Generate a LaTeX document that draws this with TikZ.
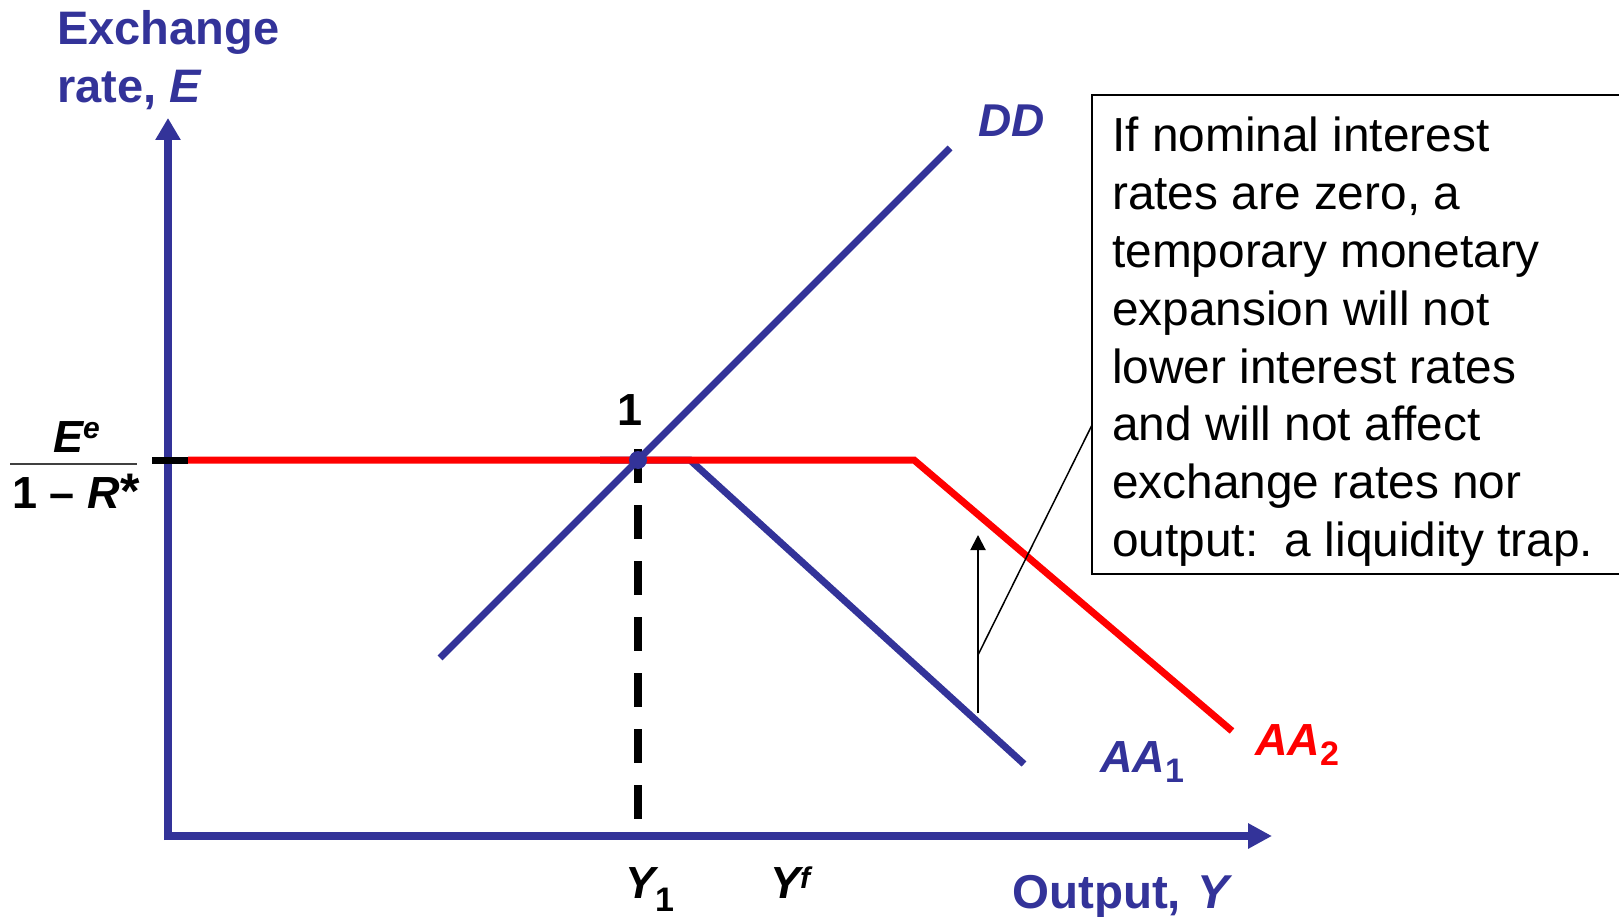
\documentclass[tikz,border=0pt]{standalone}
\usepackage{fontspec}
\setmainfont{Liberation Sans}
\usetikzlibrary{arrows.meta}
\definecolor{axblue}{HTML}{333399}
\definecolor{aared}{HTML}{FF0000}
\newcommand{\bigfont}{\fontsize{45}{54}\selectfont\bfseries}
\newcommand{\subfont}{\fontsize{34}{40}\selectfont\bfseries\upshape}
\begin{document}
\begin{tikzpicture}[x=1pt,y=-1pt,
  lbl/.style={inner sep=0pt, anchor=base west, font=\bigfont},
  curve/.style={line width=7pt},
  axisline/.style={axblue, line width=8pt}]
\useasboundingbox (0,0) rectangle (1619,917);

% coordinates
\coordinate (O) at (168,836);
\coordinate (Otop) at (168,840);
\coordinate (Ytip) at (168,118);
\coordinate (Oleft) at (164,836);
\coordinate (Xtip) at (1272,836);
\coordinate (eq) at (638,460);
\coordinate (tickL) at (152,460);
\coordinate (tickR) at (188,460);
\coordinate (kink) at (914,460);
\coordinate (AAtwoEnd) at (1232,731);
\coordinate (AAoneStart) at (600,460);
\coordinate (AAoneKink) at (690,460);
\coordinate (AAoneEnd) at (1024,764);
\coordinate (DDlow) at (440,658);
\coordinate (DDhigh) at (950,148);
\coordinate (dashTop) at (638,449);
\coordinate (dashBot) at (638,819);
\coordinate (arrBase) at (978,713);
\coordinate (arrTip) at (978,535);
\coordinate (callA) at (978,655);
\coordinate (callB) at (1092,425);

% axes
\draw[axisline, -{Triangle[length=22pt,width=24pt]}] (Otop) -- (Ytip);
\draw[axisline, -{Triangle[length=24pt,width=24pt]}] (Oleft) -- (Xtip);

% dashed Y1 line
\draw[black, line width=8pt, dash pattern=on 34pt off 22pt] (dashTop) -- (dashBot);

% AA1
\draw[axblue, curve] (AAoneStart) -- (AAoneKink) -- (AAoneEnd);
% AA2 (red)
\draw[aared, curve] (tickR) -- (kink) -- (AAtwoEnd);
% tick
\draw[black, line width=7pt] (tickL) -- (tickR);
% DD
\draw[axblue, curve] (DDlow) -- (DDhigh);
% equilibrium point
\fill[axblue] (eq) circle (9pt);

% shift arrow and callout line
\draw[black, line width=2pt, -{Triangle[length=15pt,width=15pt]}] (arrBase) -- (arrTip);
\draw[black, line width=1.5pt] (callA) -- (callB);

% callout box
\draw[black, line width=2pt] (1092,95) rectangle (1640,574);
\node[inner sep=0pt, anchor=base west, font=\fontsize{47.8}{57.8}\selectfont] (boxtext) at (1112,152)
  {\vtop{\baselineskip=57.8pt
   \hbox{If nominal interest}
   \hbox{rates are zero, a}
   \hbox{temporary monetary}
   \hbox{expansion will not}
   \hbox{lower interest rates}
   \hbox{and will not affect}
   \hbox{exchange rates nor}
   \hbox{output:\ \ a liquidity trap.}}};

% axis labels
\node[lbl, axblue, font=\fontsize{47}{58}\selectfont\bfseries] (ylab) at (57,45)
  {\vtop{\baselineskip=58pt \hbox{Exchange}\hbox{rate, \textit{E}}}};
\node[lbl, axblue, font=\fontsize{47.5}{58}\selectfont\bfseries] (xlab) at (1012,908)
  {Output,\hspace{16pt}\textit{Y}};

% curve labels
\node[lbl, axblue, font=\fontsize{46}{54}\selectfont\bfseries\itshape] (ddlab) at (978,137) {DD};
\node[lbl, axblue, font=\bigfont\itshape] (aa1lab) at (1100,772) {AA\raisebox{-10pt}{\subfont 1}};
\node[lbl, aared, font=\bigfont\itshape] (aa2lab) at (1255,755) {AA\raisebox{-10pt}{\subfont 2}};

% point label
\node[inner sep=0pt, anchor=base, font=\bigfont] (onelab) at (630,425) {1};

% fraction on vertical axis
\node[lbl, font=\bigfont\itshape] (num) at (53,452) {E\raisebox{14pt}{\fontsize{30}{36}\selectfont\bfseries\itshape e}};
\draw[black!75, line width=1.5pt] (10,464) -- (137,464);
\node[lbl, font=\bigfont] (den) at (12,508) {1 \textendash\ \textit{R}\kern1pt{\fontsize{50}{54}\selectfont *}};

% output labels
\node[lbl, font=\bigfont\itshape] (y1lab) at (625,898) {Y\raisebox{-13pt}{\subfont 1}};
\node[lbl, font=\bigfont\itshape] (yflab) at (770,898) {Y\raisebox{10pt}{\fontsize{30}{36}\selectfont\bfseries\itshape f}};
\end{tikzpicture}
\end{document}
